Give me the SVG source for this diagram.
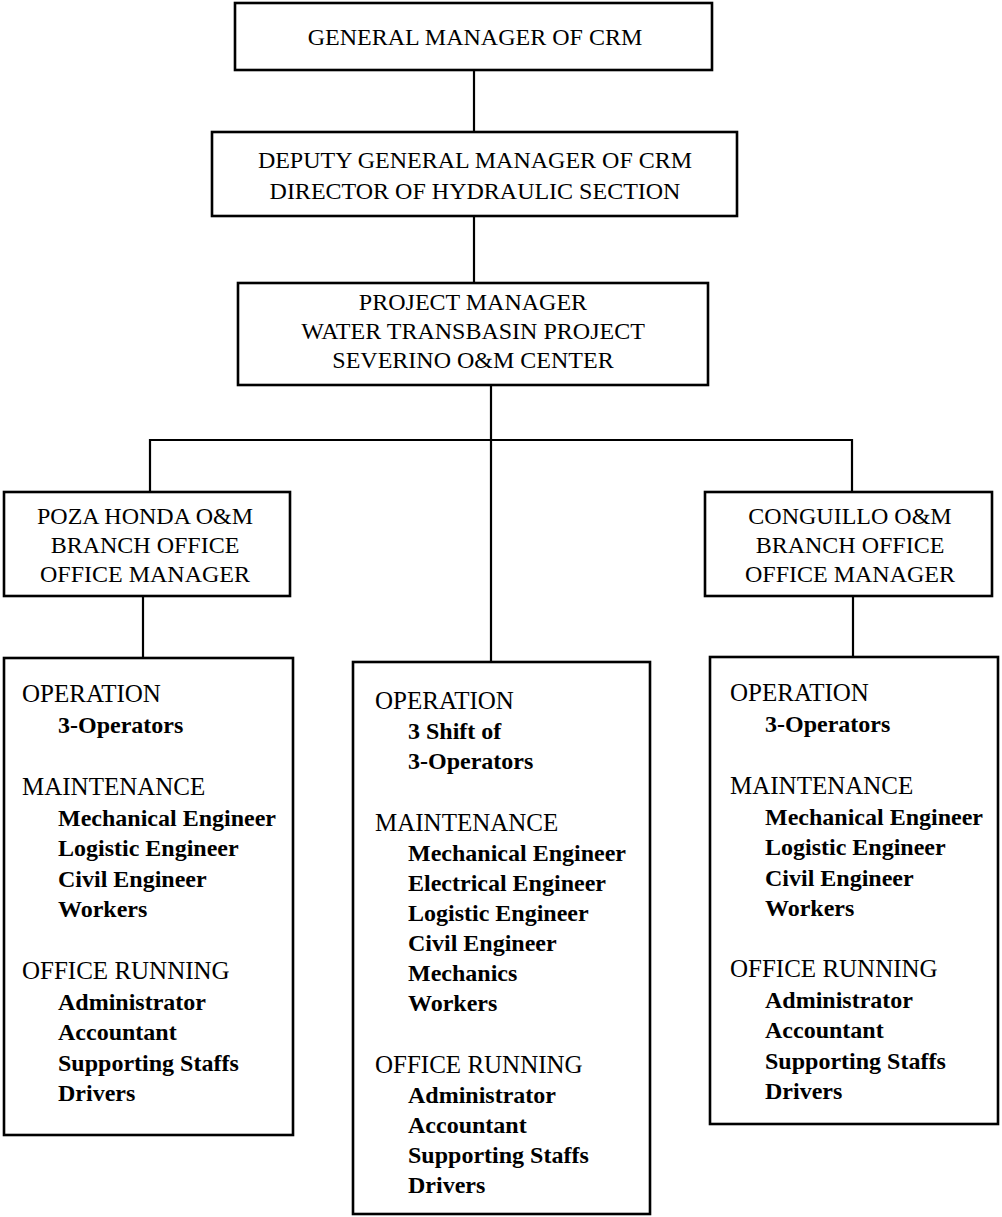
<svg xmlns="http://www.w3.org/2000/svg" width="1002" height="1217" viewBox="0 0 1002 1217">
<style>
.box{fill:#fff;stroke:#000;stroke-width:2.6}
.ln{fill:none;stroke:#000;stroke-width:2.2}
text{font-family:"Liberation Serif","Times New Roman",serif;fill:#000}
.t{font-size:24px;text-anchor:middle}
.h{font-size:25px}
.i{font-size:24px;font-weight:bold}
</style>
<rect width="1002" height="1217" fill="#fff"/>
<g id="connectors">
<line class="ln" x1="474" y1="70" x2="474" y2="132"/>
<line class="ln" x1="474" y1="216" x2="474" y2="283"/>
<line class="ln" x1="491" y1="385" x2="491" y2="662"/>
<polyline class="ln" points="150,492 150,440 852,440 852,492"/>
<line class="ln" x1="143" y1="596" x2="143" y2="658"/>
<line class="ln" x1="853" y1="596" x2="853" y2="657"/>
</g>
<g id="gm">
<rect class="box" x="235" y="3" width="477" height="67"/>
<text class="t" x="475" y="45">GENERAL MANAGER OF CRM</text>
</g>
<g id="deputy">
<rect class="box" x="212" y="132" width="525" height="84"/>
<text class="t" x="475" y="168">DEPUTY GENERAL MANAGER OF CRM</text>
<text class="t" x="475" y="199">DIRECTOR OF HYDRAULIC SECTION</text>
</g>
<g id="pm">
<rect class="box" x="238" y="283" width="470" height="102"/>
<text class="t" x="473" y="310">PROJECT MANAGER</text>
<text class="t" x="473" y="339">WATER TRANSBASIN PROJECT</text>
<text class="t" x="473" y="368">SEVERINO O&amp;M CENTER</text>
</g>
<g id="poza">
<rect class="box" x="4" y="492" width="286" height="104"/>
<text class="t" x="145" y="524">POZA HONDA O&amp;M</text>
<text class="t" x="145" y="553">BRANCH OFFICE</text>
<text class="t" x="145" y="582">OFFICE MANAGER</text>
</g>
<g id="conguillo">
<rect class="box" x="705" y="492" width="287" height="104"/>
<text class="t" x="850" y="524">CONGUILLO O&amp;M</text>
<text class="t" x="850" y="553">BRANCH OFFICE</text>
<text class="t" x="850" y="582">OFFICE MANAGER</text>
</g>
<g id="poza-staff">
<rect class="box" x="4" y="658" width="289" height="477"/>
<text class="h" x="22" y="702">OPERATION</text>
<text class="i" x="58" y="733">3-Operators</text>
<text class="h" x="22" y="795">MAINTENANCE</text>
<text class="i" x="58" y="826">Mechanical Engineer</text>
<text class="i" x="58" y="856">Logistic Engineer</text>
<text class="i" x="58" y="887">Civil Engineer</text>
<text class="i" x="58" y="917">Workers</text>
<text class="h" x="22" y="979">OFFICE RUNNING</text>
<text class="i" x="58" y="1010">Administrator</text>
<text class="i" x="58" y="1040">Accountant</text>
<text class="i" x="58" y="1071">Supporting Staffs</text>
<text class="i" x="58" y="1101">Drivers</text>
</g>
<g id="severino-staff">
<rect class="box" x="353" y="662" width="297" height="552"/>
<text class="h" x="375" y="709">OPERATION</text>
<text class="i" x="408" y="739">3 Shift of</text>
<text class="i" x="408" y="769">3-Operators</text>
<text class="h" x="375" y="831">MAINTENANCE</text>
<text class="i" x="408" y="861">Mechanical Engineer</text>
<text class="i" x="408" y="891">Electrical Engineer</text>
<text class="i" x="408" y="921">Logistic Engineer</text>
<text class="i" x="408" y="951">Civil Engineer</text>
<text class="i" x="408" y="981">Mechanics</text>
<text class="i" x="408" y="1011">Workers</text>
<text class="h" x="375" y="1073">OFFICE RUNNING</text>
<text class="i" x="408" y="1103">Administrator</text>
<text class="i" x="408" y="1133">Accountant</text>
<text class="i" x="408" y="1163">Supporting Staffs</text>
<text class="i" x="408" y="1193">Drivers</text>
</g>
<g id="conguillo-staff">
<rect class="box" x="710" y="657" width="288" height="467"/>
<text class="h" x="730" y="701">OPERATION</text>
<text class="i" x="765" y="732">3-Operators</text>
<text class="h" x="730" y="794">MAINTENANCE</text>
<text class="i" x="765" y="825">Mechanical Engineer</text>
<text class="i" x="765" y="855">Logistic Engineer</text>
<text class="i" x="765" y="886">Civil Engineer</text>
<text class="i" x="765" y="916">Workers</text>
<text class="h" x="730" y="977">OFFICE RUNNING</text>
<text class="i" x="765" y="1008">Administrator</text>
<text class="i" x="765" y="1038">Accountant</text>
<text class="i" x="765" y="1069">Supporting Staffs</text>
<text class="i" x="765" y="1099">Drivers</text>
</g>
</svg>
